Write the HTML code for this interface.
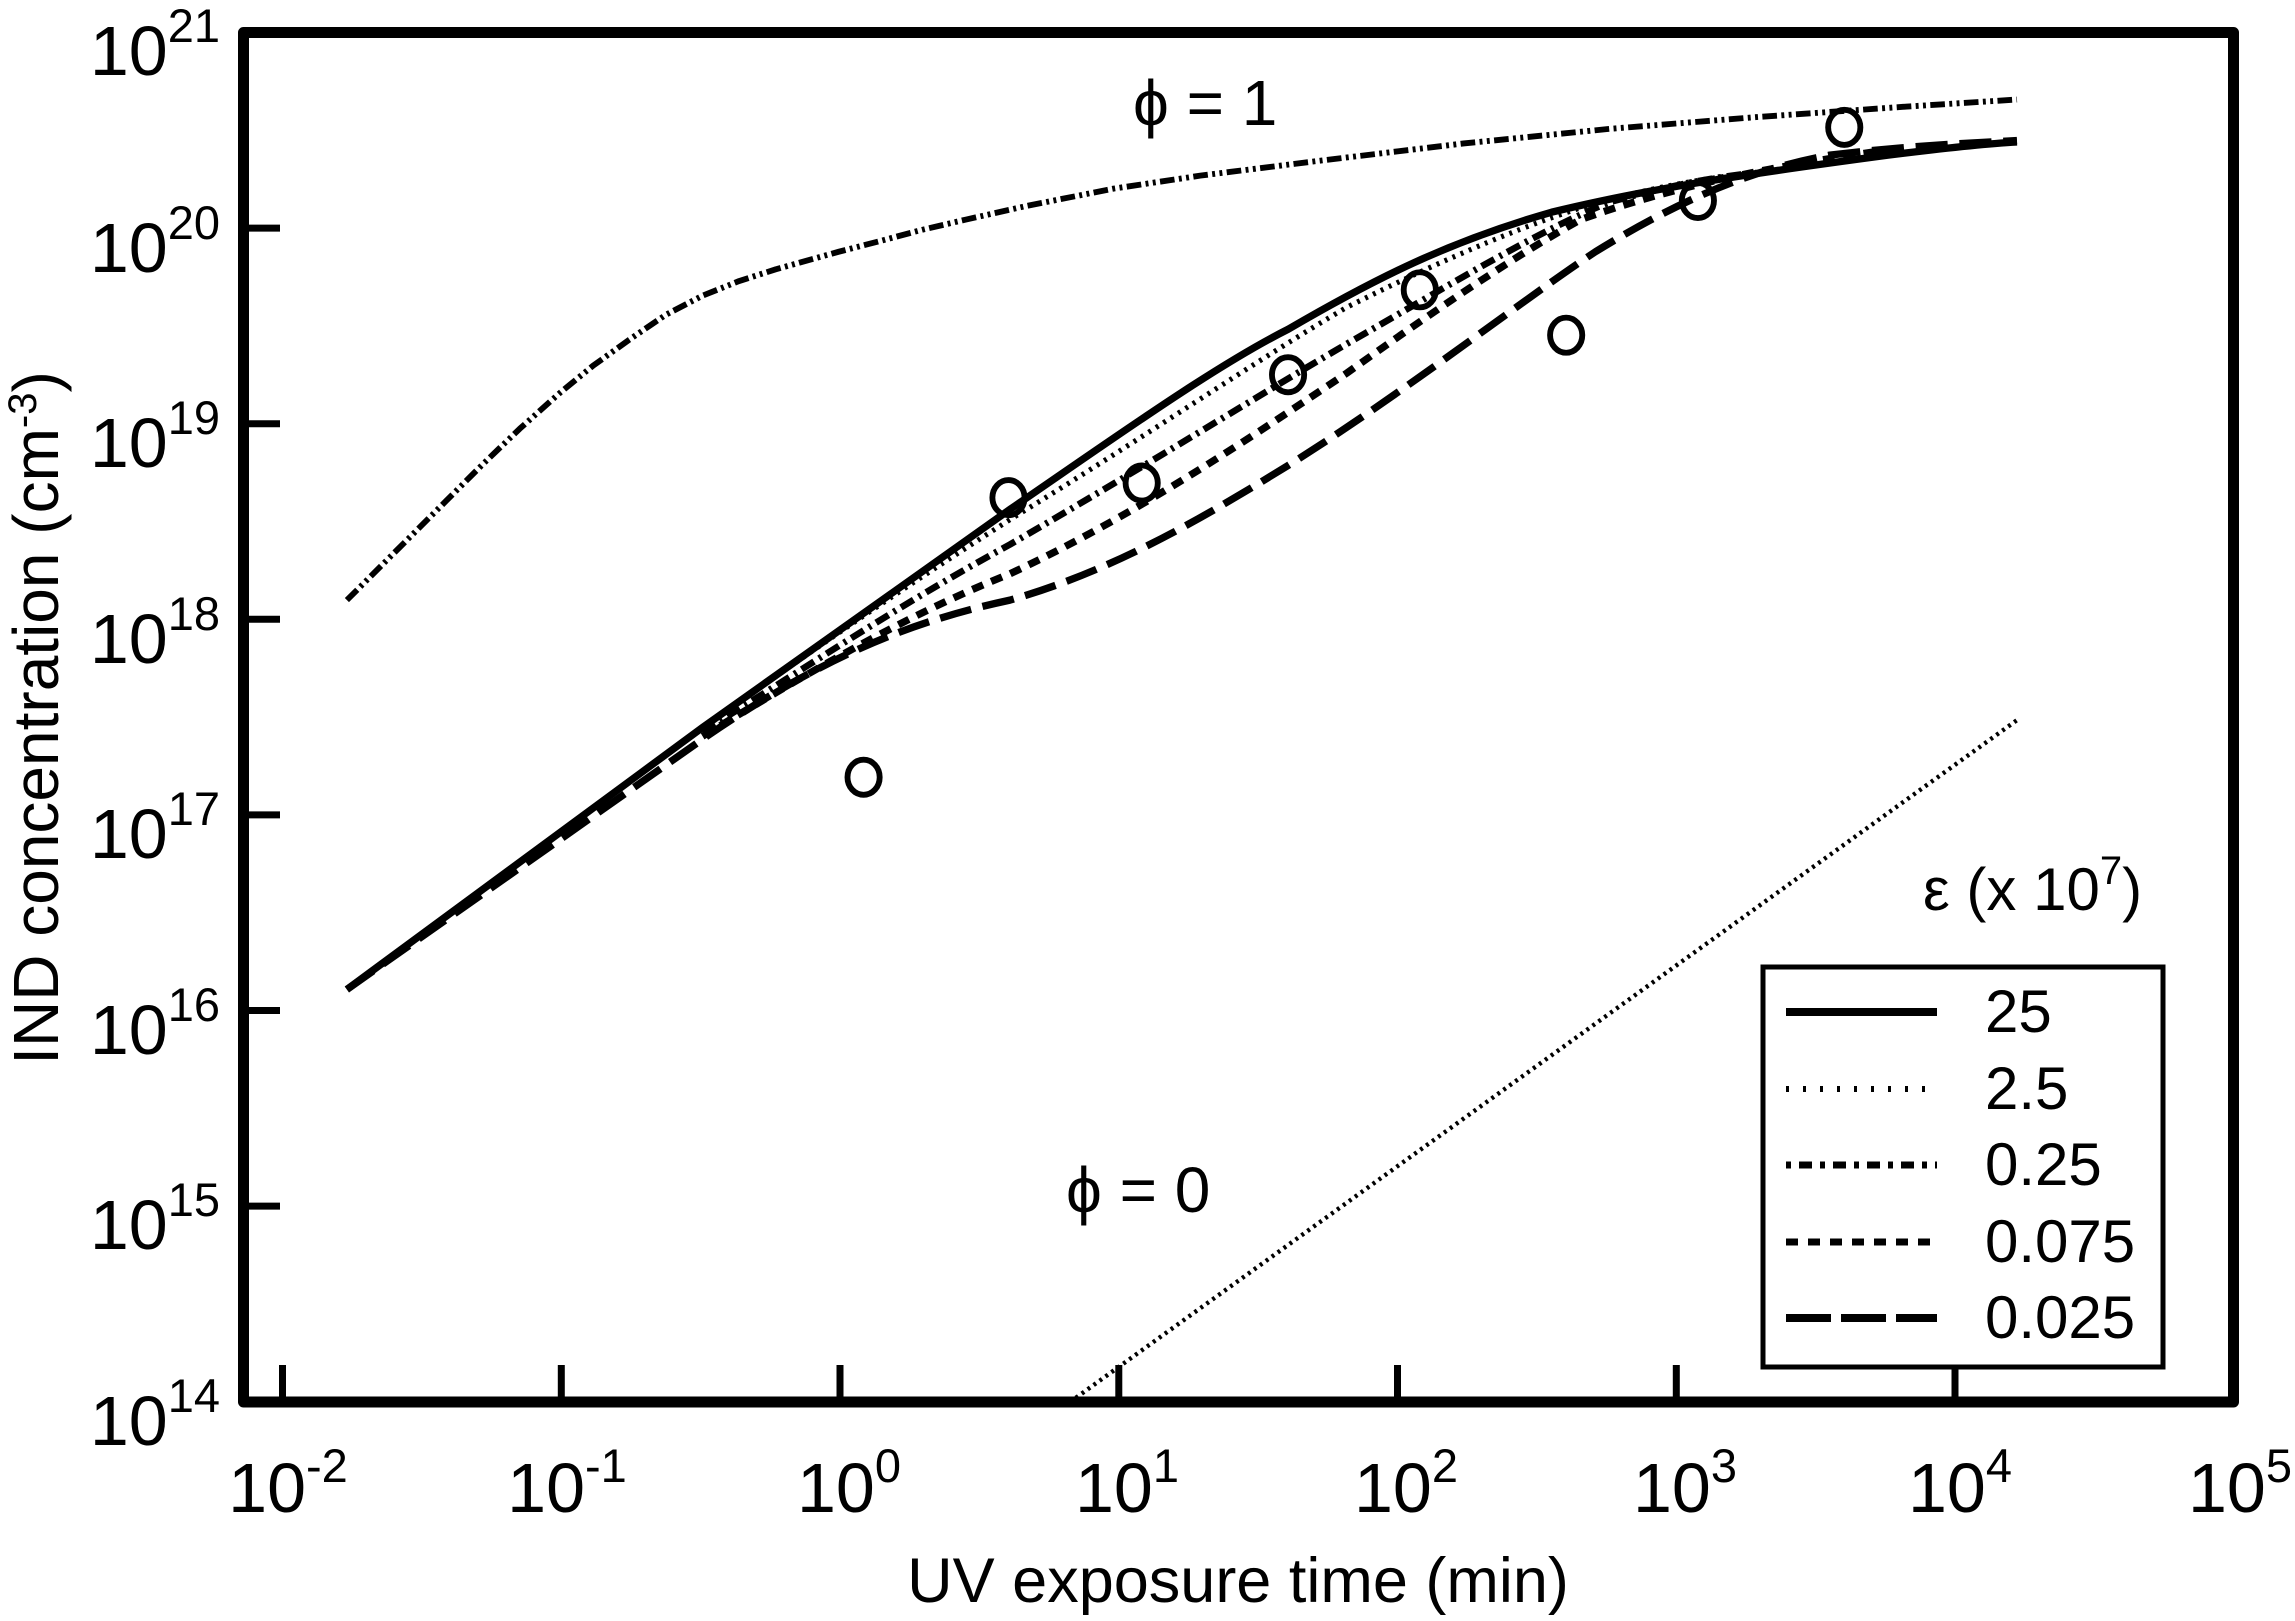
<!DOCTYPE html>
<html><head><meta charset="utf-8"><style>
html,body{margin:0;padding:0;background:#fff}
svg{display:block}
text{font-family:"Liberation Sans",Arial,sans-serif;fill:#000}
</style></head><body>
<svg width="2295" height="1621" viewBox="0 0 2295 1621" xmlns="http://www.w3.org/2000/svg">
<rect x="243.5" y="32.5" width="1990" height="1369.5" fill="none" stroke="#000" stroke-width="11" stroke-linejoin="round"/>
<g stroke="#000" stroke-width="7">
<line x1="243" y1="228.1" x2="280" y2="228.1"/>
<line x1="243" y1="423.7" x2="280" y2="423.7"/>
<line x1="243" y1="619.3" x2="280" y2="619.3"/>
<line x1="243" y1="814.9" x2="280" y2="814.9"/>
<line x1="243" y1="1010.5" x2="280" y2="1010.5"/>
<line x1="243" y1="1206.1" x2="280" y2="1206.1"/>
<line x1="282.5" y1="1402" x2="282.5" y2="1365"/>
<line x1="561.3" y1="1402" x2="561.3" y2="1365"/>
<line x1="840" y1="1402" x2="840" y2="1365"/>
<line x1="1118.8" y1="1402" x2="1118.8" y2="1365"/>
<line x1="1397.5" y1="1402" x2="1397.5" y2="1365"/>
<line x1="1676.3" y1="1402" x2="1676.3" y2="1365"/>
<line x1="1955" y1="1402" x2="1955" y2="1365"/>
</g>
<g font-size="70" text-anchor="end">
<text x="220" y="75">10<tspan dy="-33" font-size="47">21</tspan></text>
<text x="220" y="272">10<tspan dy="-33" font-size="47">20</tspan></text>
<text x="220" y="467">10<tspan dy="-33" font-size="47">19</tspan></text>
<text x="220" y="663">10<tspan dy="-33" font-size="47">18</tspan></text>
<text x="220" y="858">10<tspan dy="-33" font-size="47">17</tspan></text>
<text x="220" y="1054">10<tspan dy="-33" font-size="47">16</tspan></text>
<text x="220" y="1249">10<tspan dy="-33" font-size="47">15</tspan></text>
<text x="220" y="1445">10<tspan dy="-33" font-size="47">14</tspan></text>
</g>
<g font-size="70" text-anchor="middle">
<text x="288" y="1512">10<tspan dy="-30" font-size="47">-2</tspan></text>
<text x="567" y="1512">10<tspan dy="-30" font-size="47">-1</tspan></text>
<text x="849" y="1512">10<tspan dy="-30" font-size="47">0</tspan></text>
<text x="1127" y="1512">10<tspan dy="-30" font-size="47">1</tspan></text>
<text x="1406" y="1512">10<tspan dy="-30" font-size="47">2</tspan></text>
<text x="1685" y="1512">10<tspan dy="-30" font-size="47">3</tspan></text>
<text x="1960" y="1512">10<tspan dy="-30" font-size="47">4</tspan></text>
<text x="2240" y="1512">10<tspan dy="-30" font-size="47">5</tspan></text>
</g>
<text x="1238" y="1602" font-size="63" text-anchor="middle">UV exposure time (min)</text>
<text transform="translate(58,718) rotate(-90)" font-size="64" text-anchor="middle">IND concentration (cm<tspan dy="-22" font-size="40">-3</tspan><tspan dy="22">)</tspan></text>

<g transform="scale(1.4637)" fill="none" stroke="#000" stroke-linejoin="round">
<polyline stroke-width="4" stroke-dasharray="10,3,2,3,2,3" points="237,410 260,387 280,367 305,342 330,317 355,293 383,268 405,250 430,232 455,215 480,202 505,192 530,184 555,177 573,172 600,165 630,157 660,150 700,141 760,129 820,120 900,110 1000,98 1100,88 1200,80 1300,73 1378,68"/>
<polyline stroke-width="3" stroke-dasharray="2,3" points="735,955 1378,492"/>
<path stroke-width="5" stroke-dasharray="22,8" d="M237,676 L480,505 C560,450 620,425 690,410 C760,390 820,355 880,318 C960,268 1040,205 1090,172 C1150,135 1200,115 1250,106 C1300,100 1340,98 1378,96"/>
<path stroke-width="5" stroke-dasharray="8,6" d="M480,503 C560,455 620,420 690,392 C780,350 860,295 920,255 C990,205 1040,172 1080,150 C1150,125 1220,112 1300,101"/>
<path stroke-width="4.5" stroke-dasharray="10,4,2,4" d="M480,500 C560,450 620,410 690,372 C780,320 860,270 920,235 C990,195 1050,158 1100,138 C1140,127 1170,121 1200,118"/>
<path stroke-width="3.5" stroke-dasharray="2,4" d="M480,498 C560,440 620,400 690,355 C780,300 860,245 920,210 C990,175 1050,150 1100,136 C1140,126 1170,121 1200,118"/>
<path stroke-width="5" d="M237,676 L480,497 C560,440 630,390 690,348 C760,300 830,250 880,225 C940,190 990,165 1060,145 C1130,128 1200,118 1290,106 C1330,101 1360,98 1378,97"/>
<g stroke-width="4">
<ellipse cx="590" cy="531" rx="11" ry="12"/>
<ellipse cx="689" cy="340" rx="11" ry="12"/>
<ellipse cx="780" cy="330" rx="11" ry="12"/>
<ellipse cx="880" cy="256" rx="11" ry="12"/>
<ellipse cx="970" cy="198" rx="11" ry="12"/>
<ellipse cx="1070" cy="229" rx="11" ry="12"/>
<ellipse cx="1160" cy="137" rx="11" ry="12"/>
<ellipse cx="1260" cy="87" rx="11" ry="12"/>
</g>
</g>
<text x="1133" y="125" font-size="64">ϕ = 1</text>
<text x="1066" y="1212" font-size="64">ϕ = 0</text>
<text x="1923" y="910" font-size="60">ε (x 10<tspan dy="-26" font-size="40">7</tspan><tspan dy="26">)</tspan></text>
<rect x="1763" y="967" width="400" height="400" fill="#fff" stroke="#000" stroke-width="5"/>
<g stroke="#000">
<line x1="1786" y1="1012" x2="1937" y2="1012" stroke-width="8"/>
<line x1="1786" y1="1089" x2="1927" y2="1089" stroke-width="6" stroke-dasharray="3,14"/>
<line x1="1786" y1="1165" x2="1937" y2="1165" stroke-width="7" stroke-dasharray="5,8,13,8"/>
<line x1="1786" y1="1242" x2="1930" y2="1242" stroke-width="7" stroke-dasharray="12,10"/>
<line x1="1786" y1="1318" x2="1937" y2="1318" stroke-width="8" stroke-dasharray="45,10"/>
</g>
<g font-size="60">
<text x="1985" y="1032">25</text>
<text x="1985" y="1109">2.5</text>
<text x="1985" y="1185">0.25</text>
<text x="1985" y="1262">0.075</text>
<text x="1985" y="1338">0.025</text>
</g>
</svg>
</body></html>
